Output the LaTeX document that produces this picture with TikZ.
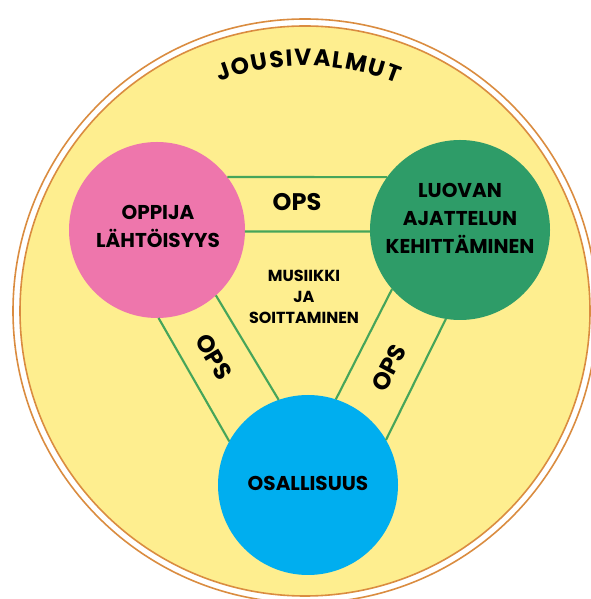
\documentclass[tikz,border=0pt]{standalone}
\usepackage{fontspec}
\setmainfont{Poppins}
\usetikzlibrary{decorations.text}
\definecolor{bgyellow}{RGB}{254,238,143}
\definecolor{ringorange}{RGB}{218,140,64}
\definecolor{cpink}{RGB}{238,118,172}
\definecolor{cgreen}{RGB}{46,156,104}
\definecolor{cblue}{RGB}{0,174,239}
\definecolor{lgreen}{RGB}{70,165,90}
\tikzset{
  bigcirc/.style={circle, inner sep=0pt, outer sep=0pt, minimum size=#1},
  lbl/.style={align=center, font=\fontsize{15}{21}\selectfont\bfseries, text=black},
  opslbl/.style={font=\fontsize{18}{22}\selectfont\bfseries, text=black, inner sep=1pt},
  midlbl/.style={align=center, font=\fontsize{12}{15.5}\selectfont\bfseries, text=black},
  band/.style={draw=lgreen, line width=1.6pt}
}
\begin{document}
\begin{tikzpicture}[x=0.75pt, y=0.75pt]
\useasboundingbox (0,0) rectangle (590,599);
% outer rings
\draw[ringorange, line width=1.2pt] (305,288) circle[radius=219pt];
\fill[bgyellow] (305,288) circle[radius=213.75pt];
\draw[ringorange, line width=1.2pt] (305,288) circle[radius=213.75pt];
% title along arc
\path[decorate, decoration={text along path, text align=fit to path,
  text={|\fontsize{17.5}{20}\selectfont\bfseries|JOUSIVALMUT}}]
  (305,288) ++(110.5:184pt) arc[start angle=110.5, end angle=68, radius=184pt];
% circles
\node[bigcirc=132pt, fill=cpink] (pink) at (157,369) {};
\node[bigcirc=135pt, fill=cgreen] (green) at (460,369) {};
\node[bigcirc=135pt, fill=cblue] (blue) at (308,114) {};
% band lines
\draw[band] (pink.37) -- (green.144);
\draw[band] (pink.-1) -- (green.181);
\draw[band] (pink.-89) -- (blue.151);
\draw[band] (pink.-48) -- (blue.109);
\draw[band] (green.221) -- (blue.72);
\draw[band] (green.-99) -- (blue.30);
% labels
\node[lbl] (pinktxt) at (158,373) {OPPIJA\\LÄHTÖISYYS};
\node[lbl] (greentxt) at (460,381) {LUOVAN\\AJATTELUN\\KEHITTÄMINEN};
\node[lbl] (bluetxt) at (308,116) {OSALLISUUS};
\node[midlbl] (mid) at (304,302) {MUSIIKKI\\JA\\SOITTAMINEN};
\node[opslbl] (opstop) at (297,397) {OPS};
\node[opslbl, rotate=-59] (opsleft) at (214,242) {OPS};
\node[opslbl, rotate=62] (opsright) at (389,231) {OPS};
\end{tikzpicture}
\end{document}
